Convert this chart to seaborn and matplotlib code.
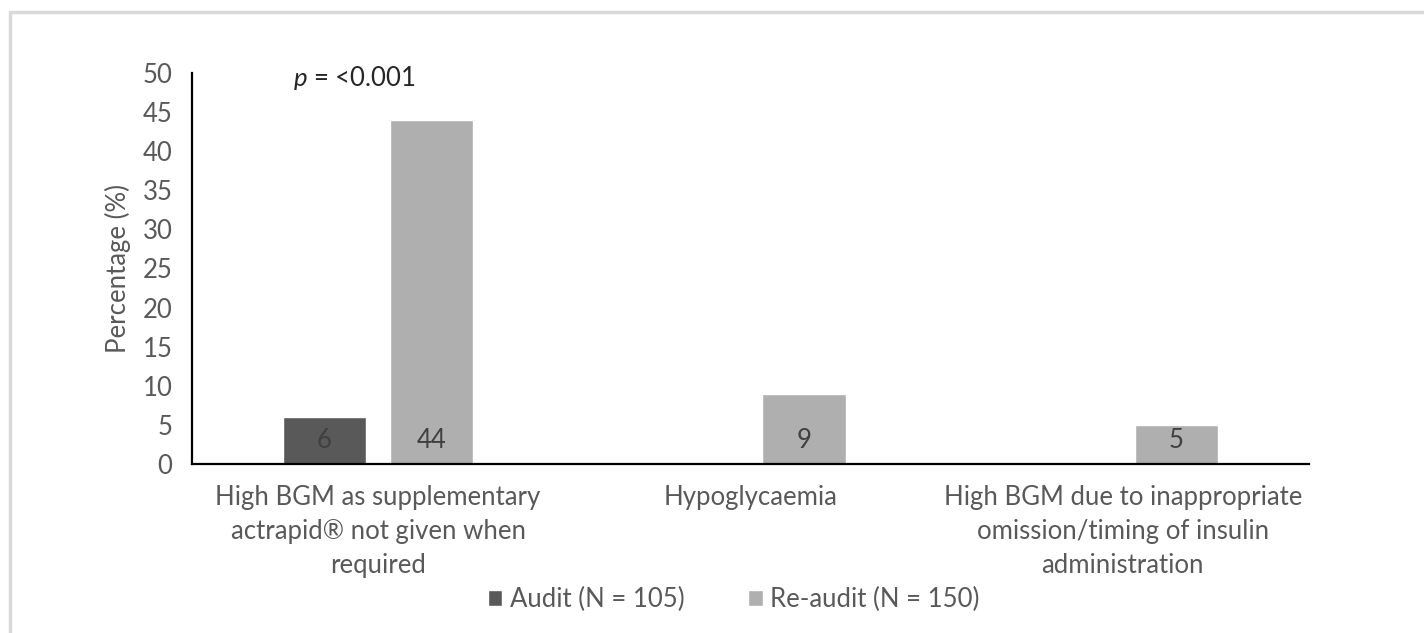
import numpy as np
import pandas as pd
import matplotlib
matplotlib.use("Agg")
import matplotlib.pyplot as plt
import seaborn as sns
from matplotlib.patches import Rectangle

# Data
categories = [
    "High BGM as supplementary\nactrapid\u00ae not given when\nrequired",
    "Hypoglycaemia",
    "High BGM due to inappropriate\nomission/timing of insulin\nadministration",
]
series_names = ["Audit (N = 105)", "Re-audit (N = 150)"]
audit_values = [6, np.nan, np.nan]
reaudit_values = [44, 9, 5]
y_ticks = list(range(0, 51, 5))
p_text = "$\\it{p}$ = <0.001"

df = pd.DataFrame({
    "category": categories * 2,
    "group": [series_names[0]] * 3 + [series_names[1]] * 3,
    "value": audit_values + reaudit_values,
})

sns.set_theme(style="white")
plt.rcParams["font.family"] = ["Lato", "DejaVu Sans"]
plt.rcParams["mathtext.fontset"] = "custom"
plt.rcParams["mathtext.it"] = "Lato:italic"
plt.rcParams["mathtext.rm"] = "Lato"

text_grey = "#595959"
fs = 18.5
palette = {series_names[0]: "#595959", series_names[1]: "#afafaf"}

fig = plt.figure(figsize=(14.24, 6.33), dpi=100)
ax = fig.add_axes([0.1348, 0.267, 0.7844, 0.6177])

sns.barplot(data=df, x="category", y="value", hue="group", order=categories,
            hue_order=series_names, palette=palette, width=0.575, gap=0.224,
            saturation=1, ax=ax, legend=True)

ax.set_ylim(0, 50)
ax.set_yticks(y_ticks)
ax.set_xlim(-0.5, 2.5)
ax.tick_params(axis="both", length=0, colors=text_grey, labelsize=fs)
ax.tick_params(axis="x", pad=15)
for lbl in ax.get_xticklabels():
    lbl.set_linespacing(1.45)
ax.tick_params(axis="y", pad=14)
ax.set_xlabel("")
ax.set_ylabel("Percentage (%)", color=text_grey, fontsize=fs, labelpad=8)

for side in ["top", "right"]:
    ax.spines[side].set_visible(False)
for side in ["left", "bottom"]:
    ax.spines[side].set_color("black")
    ax.spines[side].set_linewidth(1.6)

# Value labels near the base of each bar
for container in ax.containers:
    for patch in container:
        h = patch.get_height()
        if np.isnan(h) or h == 0:
            continue
        ax.annotate(f"{h:g}", xy=(patch.get_x() + patch.get_width() / 2, 0),
                    xytext=(0, 17), textcoords="offset points",
                    ha="center", va="center", fontsize=fs, color="#404040")

ax.text(-0.228, 49.4, p_text, ha="left", va="center", fontsize=fs, color="#262626")

leg = ax.legend(loc="upper center", bbox_to_anchor=(0.485, -0.255), ncol=2,
                frameon=False, fontsize=fs, handlelength=0.55, handleheight=0.55,
                handletextpad=0.3, columnspacing=2.5)
for t in leg.get_texts():
    t.set_color(text_grey)

# Light chart-area frame
fig.patches.append(Rectangle((10 / 1424, -0.05), 1.1, 1 - 12 / 633 + 0.05,
                             transform=fig.transFigure, fill=False,
                             edgecolor="#d9d9d9", linewidth=2.5))

fig.savefig("out.png", dpi=100, facecolor="white")
